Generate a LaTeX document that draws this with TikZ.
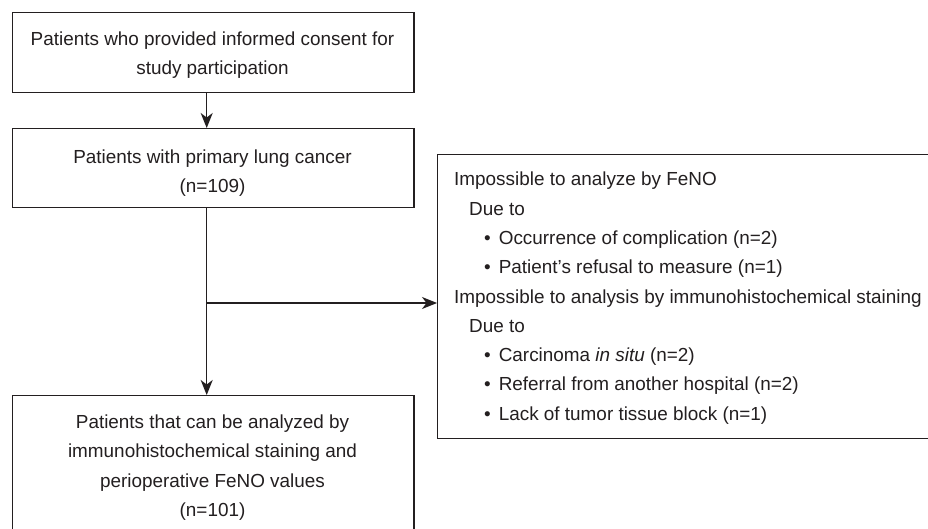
\documentclass[tikz,border=0pt]{standalone}
\usepackage{fontspec}
\setmainfont{Liberation Sans}
\usetikzlibrary{arrows.meta}
\definecolor{ink}{HTML}{231F20}
\begin{document}
\begin{tikzpicture}[x=1pt,y=-1pt,
  box/.style={draw=ink, line width=1.4pt, inner sep=0pt, anchor=north west},
  txt/.style={inner sep=0pt, text=ink, font=\fontsize{18.9}{29.25}\selectfont},
  ctxt/.style={txt, align=center, anchor=base},
  ltxt/.style={txt, anchor=base west},
  arr/.style={draw=ink, line width=1.4pt, -{Stealth[length=15pt,width=12pt,inset=4.5pt]}}]
\useasboundingbox[fill=white] (0,0) rectangle (928,529);
% boxes
\node[box, minimum width=401.3pt, minimum height=80pt] (b1) at (12,12) {};
\node[box, minimum width=401.3pt, minimum height=79pt] (b2) at (12,128) {};
\node[box, minimum width=401.3pt, minimum height=150pt] (b3) at (12,395) {};
\node[box, minimum width=510pt, minimum height=284pt] (rb) at (437,154) {};
% box texts (base = baseline of last line)
\node[ctxt] (t1) at (212.5,75) {Patients who provided informed consent for\\study participation};
\node[ctxt] (t2) at (212.5,192.75) {Patients with primary lung cancer\\(n=109)};
\node[ctxt] (t3) at (212.5,516.25) {Patients that can be analyzed by\\immunohistochemical staining and\\perioperative FeNO values\\(n=101)};
% exclusion texts
\node[ltxt] (r1) at (454,186) {Impossible to analyze by FeNO};
\node[ltxt] (r2) at (469,215.25) {Due to};
\node[ltxt] (r3) at (484,244.5) {•\hspace{8pt}Occurrence of complication (n=2)};
\node[ltxt] (r4) at (484,273.75) {•\hspace{8pt}Patient’s refusal to measure (n=1)};
\node[ltxt] (r5) at (454,303) {Impossible to analysis by immunohistochemical staining};
\node[ltxt] (r6) at (469,332.25) {Due to};
\node[ltxt] (r7) at (484,361.5) {•\hspace{8pt}Carcinoma \textit{in situ} (n=2)};
\node[ltxt] (r8) at (484,390.75) {•\hspace{8pt}Referral from another hospital (n=2)};
\node[ltxt] (r9) at (484,420) {•\hspace{8pt}Lack of tumor tissue block (n=1)};
% connectors
\coordinate (ax) at (206.7,0);
\coordinate (j) at (206.7,303);
\draw[arr] (b1.south -| ax) -- (b2.north -| ax);
\draw[arr] (b2.south -| ax) -- (b3.north -| ax);
\draw[arr] (j) -- (j -| rb.west);
\end{tikzpicture}
\end{document}
